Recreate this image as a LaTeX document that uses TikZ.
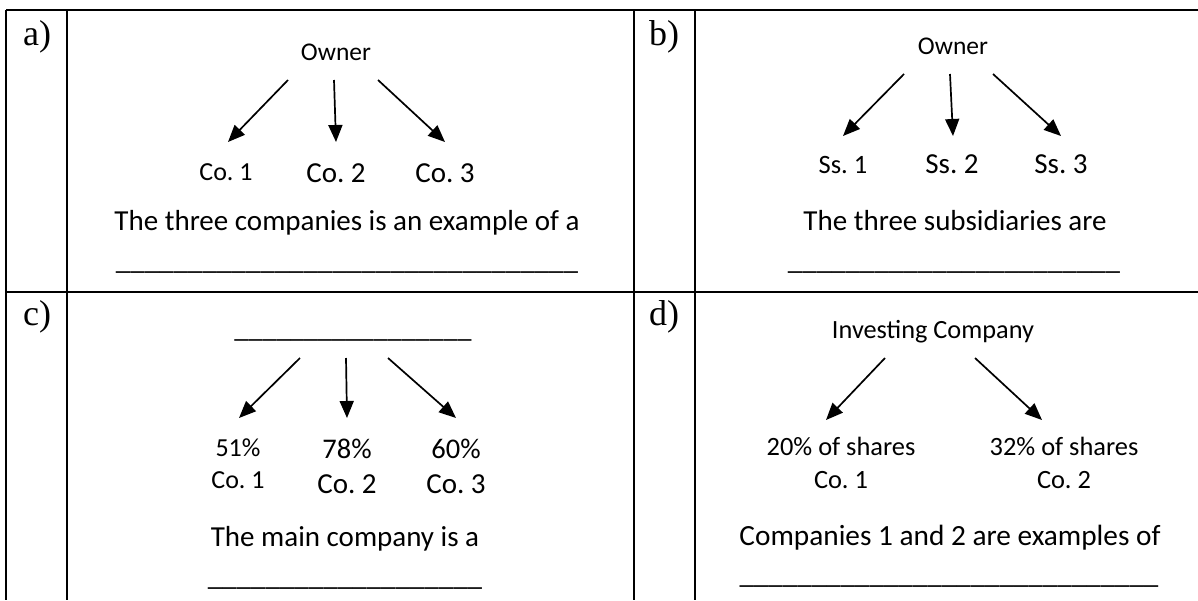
\documentclass[tikz,border=0pt]{standalone}
\usepackage{fontspec}
\setmainfont{Carlito}
\newfontfamily\partfont{Liberation Serif}
\usetikzlibrary{arrows.meta}
\frenchspacing
\newcommand{\fs}[1]{\fontsize{#1}{#1}\selectfont}
\newcommand{\blankline}[1]{\foreach \k in {1,...,#1}{\_}}
\newcommand{\partlabel}[1]{{\partfont\fs{36}#1}}
\tikzset{
	grid/.style={line width=1.5pt},
	link/.style={line width=1.7pt, -{Triangle[length=17pt,width=14pt]}},
	txt/.style={inner sep=0pt, anchor=base},
}
\begin{document}
\begin{tikzpicture}[x=1pt,y=-1pt]
	\useasboundingbox (0,0) rectangle (1198,600);
	% table
	\draw [grid] (6,10) -- (1198,10);
	\draw [grid] (6,292) -- (1198,292);
	\draw [grid] (6,10) -- (6,600);
	\draw [grid] (67,10) -- (67,600);
	\draw [grid] (634,10) -- (634,600);
	\draw [grid] (695,10) -- (695,600);
	\node [txt] (la) at (37,45) {\partlabel{a)}};
	\node [txt] (lb) at (664,45) {\partlabel{b)}};
	\node [txt] (lc) at (37,325) {\partlabel{c)}};
	\node [txt] (ld) at (664,325) {\partlabel{d)}};

	% a)
	\node [txt] (ownerA) at (336,60) {\fs{25.5}Owner};
	\node [txt] (coA1) at (226,180) {\fs{26}Co. 1};
	\node [txt] (coA2) at (336,182) {\fs{29}Co. 2};
	\node [txt] (coA3) at (445,182) {\fs{29}Co. 3};
	\node [txt] (textA) at (347,230) 
	{\fs{29}The three companies is an example of a};
	\node [txt] (blankA) at (347,269) {\fs{29}\blankline{32}};
	\coordinate (a1) at (288,80);
	\coordinate (a1') at (228,142);
	\coordinate (a2) at (334,80);
	\coordinate (a2') at (336,142);
	\coordinate (a3) at (378,80);
	\coordinate (a3') at (445,142);
	\draw [link] (a1) to (a1');
	\draw [link] (a2) to (a2');
	\draw [link] (a3) to (a3');

	% b)
	\node [txt] (ownerB) at (953,54) {\fs{25.5}Owner};
	\node [txt] (ssB1) at (843,173) {\fs{26.5}Ss. 1};
	\node [txt] (ssB2) at (952,173) {\fs{29}Ss. 2};
	\node [txt] (ssB3) at (1061,173) {\fs{29}Ss. 3};
	\node [txt] (textB) at (955,230) 
	{\fs{29}The three subsidiaries are};
	\node [txt] (blankB) at (954,269) {\fs{29}\blankline{23}};
	\coordinate (b1) at (904,74);
	\coordinate (b1') at (843,136);
	\coordinate (b2) at (950,74);
	\coordinate (b2') at (953,136);
	\coordinate (b3) at (993,74);
	\coordinate (b3') at (1061,136);
	\draw [link] (b1) to (b1');
	\draw [link] (b2) to (b2');
	\draw [link] (b3) to (b3');

	% c)
	\node [txt] (topC) at (353,337) {\fs{28}\blankline{17}};
	\node [txt] (pctC1) at (238,456) {\fs{26}51\%};
	\node [txt] (coC1) at (238,488) {\fs{26}Co. 1};
	\node [txt] (pctC2) at (347,458) {\fs{28.5}78\%};
	\node [txt] (coC2) at (347,493) {\fs{29}Co. 2};
	\node [txt] (pctC3) at (456,458) {\fs{28.5}60\%};
	\node [txt] (coC3) at (456,493) {\fs{29}Co. 3};
	\node [txt] (textC) at (345,546) {\fs{29}The main company is a};
	\node [txt] (blankC) at (345,585) {\fs{29}\blankline{19}};
	\coordinate (c1) at (300,358);
	\coordinate (c1') at (239,418);
	\coordinate (c2) at (346,358);
	\coordinate (c2') at (347,418);
	\coordinate (c3) at (388,358);
	\coordinate (c3') at (456,418);
	\draw [link] (c1) to (c1');
	\draw [link] (c2) to (c2');
	\draw [link] (c3) to (c3');

	% d)
	\node [txt] (investD) at (933,338) {\fs{26.3}Investing Company};
	\node [txt] (shareD1) at (841,455) {\fs{26.4}20\% of shares};
	\node [txt] (coD1) at (841,488) {\fs{26.4}Co. 1};
	\node [txt] (shareD2) at (1064,455) {\fs{26.4}32\% of shares};
	\node [txt] (coD2) at (1064,488) {\fs{26.4}Co. 2};
	\node [txt] (textD) at (950,545) 
	{\fs{29.3}Companies 1 and 2 are examples of};
	\node [txt] (blankD) at (949,583) {\fs{29}\blankline{29}};
	\coordinate (d1) at (885,358);
	\coordinate (d1') at (826,420);
	\coordinate (d2) at (975,358);
	\coordinate (d2') at (1042,420);
	\draw [link] (d1) to (d1');
	\draw [link] (d2) to (d2');
\end{tikzpicture}
\end{document}
